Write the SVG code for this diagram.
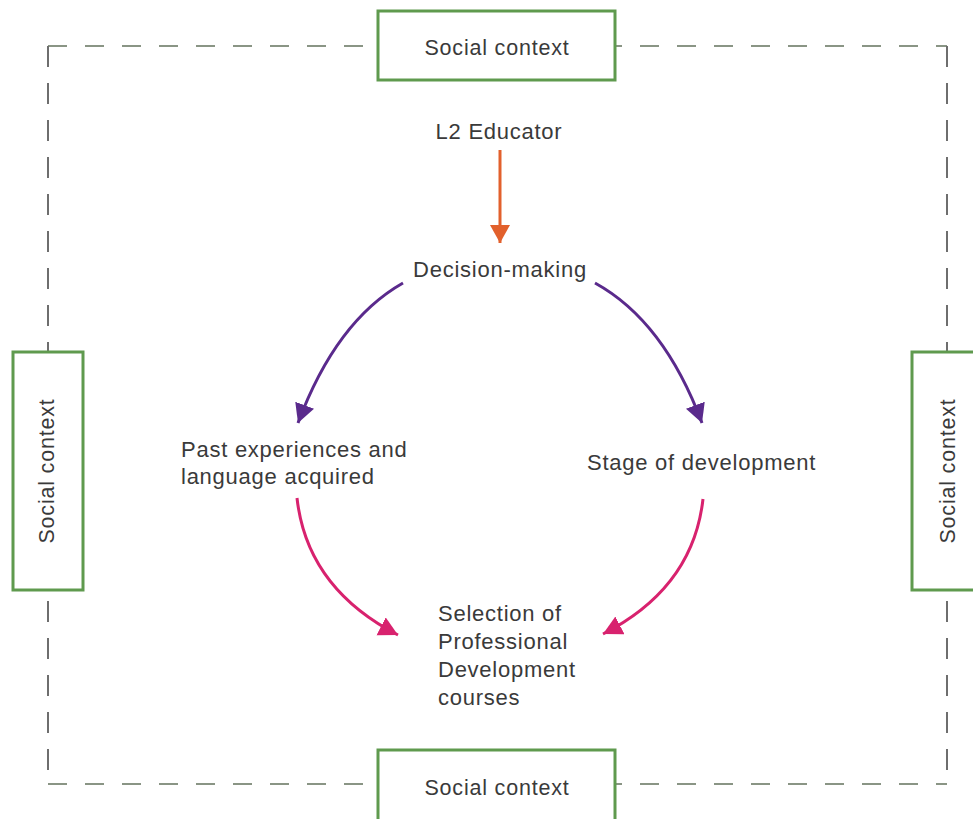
<svg xmlns="http://www.w3.org/2000/svg" width="973" height="819" viewBox="0 0 973 819">
  <style>
    .lbl { font-family: "Liberation Sans", Arial, sans-serif; font-size: 22px; letter-spacing: 0.75px; fill: #3a3a3a; }
    .ctx { font-family: "Liberation Sans", Arial, sans-serif; font-size: 21.5px; letter-spacing: 0.8px; fill: #3a3a3a; }
    .box { fill: #ffffff; stroke: #5f9a4e; stroke-width: 3; }
    .dh { stroke: #8a9585; stroke-width: 2; stroke-dasharray: 19 18; fill: none; }
    .dv { stroke: #6e6e6e; stroke-width: 2; stroke-dasharray: 21 16; fill: none; }
    .arc { fill: none; stroke-width: 3; }
  </style>
  <defs>
    <marker id="ah-orange" markerUnits="userSpaceOnUse" markerWidth="22" markerHeight="22" refX="18" refY="10" orient="auto">
      <path d="M0,0 L18,10 L0,20 Z" fill="#e2602c"/>
    </marker>
    <marker id="ah-purple" markerUnits="userSpaceOnUse" markerWidth="22" markerHeight="22" refX="19" refY="10" orient="auto">
      <path d="M0,0 L19,10 L0,20 Z" fill="#5a2a8c"/>
    </marker>
    <marker id="ah-pink" markerUnits="userSpaceOnUse" markerWidth="22" markerHeight="22" refX="19" refY="10" orient="auto">
      <path d="M0,0 L19,10 L0,20 Z" fill="#d8226e"/>
    </marker>
  </defs>
  <rect width="973" height="819" fill="#ffffff"/>

  <g id="frame">
    <line class="dh" x1="48" y1="46" x2="947" y2="46"/>
    <line class="dh" x1="48" y1="784" x2="947" y2="784"/>
    <line class="dv" x1="48" y1="46" x2="48" y2="784"/>
    <line class="dv" x1="947" y1="46" x2="947" y2="784"/>
  </g>

  <g id="connectors">
    <line x1="500" y1="150" x2="500" y2="243" stroke="#e2602c" stroke-width="3" marker-end="url(#ah-orange)"/>
    <path class="arc" d="M403,283 Q336,321 298,423" stroke="#5a2a8c" marker-end="url(#ah-purple)"/>
    <path class="arc" d="M595,283 Q664,321 702,423" stroke="#5a2a8c" marker-end="url(#ah-purple)"/>
    <path class="arc" d="M297,498 Q307,588 398,635" stroke="#d8226e" marker-end="url(#ah-pink)"/>
    <path class="arc" d="M703,499 Q693,588 603,634" stroke="#d8226e" marker-end="url(#ah-pink)"/>
  </g>

  <g id="ctx-top">
    <rect class="box" x="378" y="11" width="237" height="69"/>
    <text class="ctx" x="497" y="55" text-anchor="middle">Social context</text>
  </g>
  <g id="ctx-bottom">
    <rect class="box" x="378" y="750" width="237" height="80"/>
    <text class="ctx" x="497" y="795" text-anchor="middle">Social context</text>
  </g>
  <g id="ctx-left">
    <rect class="box" x="13" y="352" width="70" height="238"/>
    <text class="ctx" x="0" y="0" text-anchor="middle" dominant-baseline="central" transform="translate(47,471) rotate(-90)">Social context</text>
  </g>
  <g id="ctx-right">
    <rect class="box" x="912" y="352" width="70" height="238"/>
    <text class="ctx" x="0" y="0" text-anchor="middle" dominant-baseline="central" transform="translate(948,471) rotate(-90)">Social context</text>
  </g>

  <g id="educator">
    <text class="lbl" x="499" y="139" text-anchor="middle">L2 Educator</text>
  </g>
  <g id="decision">
    <text class="lbl" x="500" y="277" text-anchor="middle">Decision-making</text>
  </g>
  <g id="past">
    <text class="lbl" x="181" y="457">Past experiences and</text>
    <text class="lbl" x="181" y="484">language acquired</text>
  </g>
  <g id="stage">
    <text class="lbl" x="587" y="470">Stage of development</text>
  </g>
  <g id="selection">
    <text class="lbl" x="438" y="621">Selection of</text>
    <text class="lbl" x="438" y="649">Professional</text>
    <text class="lbl" x="438" y="677">Development</text>
    <text class="lbl" x="438" y="705">courses</text>
  </g>
</svg>
